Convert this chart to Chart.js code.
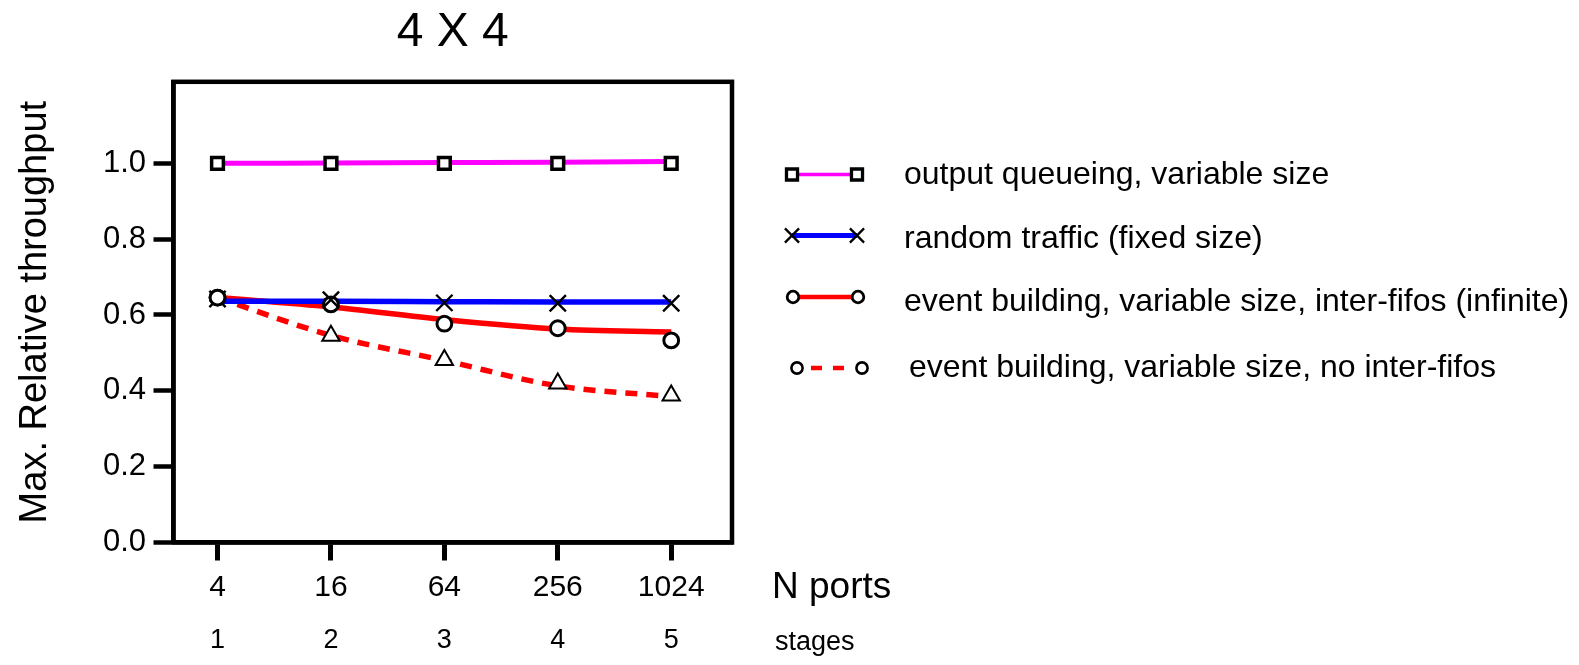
<!DOCTYPE html>
<html>
<head>
<meta charset="utf-8">
<script src="https://cdn.jsdelivr.net/npm/chart.js@4.4.1/dist/chart.umd.min.js"></script>
<style>
  html, body { margin: 0; padding: 0; background: #fff; }
  canvas { display: block; }
</style>
</head>
<body>
<canvas id="chart" width="1579" height="665" style="width:1579px;height:665px"></canvas>
<script>
// Network size per number of switching stages
const stages = [1, 2, 3, 4, 5];
const portLabels = ['4', '16', '64', '256', '1024'];
const stageLabels = ['1', '2', '3', '4', '5'];
const yTickValues = [0, 0.2, 0.4, 0.6, 0.8, 1.0];

// Fitted curves and simulated points, max. relative throughput
const outputQueueingFit = [1.000, 1.001, 1.002, 1.003, 1.005];
const outputQueueingPts = [1.000, 1.000, 1.000, 1.000, 1.000];
const randomTrafficFit  = [0.636, 0.636, 0.635, 0.634, 0.634];
const randomTrafficPts  = [0.642, 0.640, 0.632, 0.631, 0.631];
const interFifoFit      = [0.646, 0.621, 0.588, 0.563, 0.555];
const interFifoPts      = [0.646, 0.628, 0.577, 0.565, 0.533];
const noFifoFit         = [0.646, 0.546, 0.480, 0.413, 0.385];
const noFifoPts         = [0.646, 0.545, 0.481, 0.419, 0.388];

const seriesLabels = [
  'output queueing, variable size',
  'random traffic (fixed size)',
  'event building, variable size, inter-fifos (infinite)',
  'event building, variable size, no inter-fifos'
];

const FONT = "'Liberation Sans', Arial, Helvetica, sans-serif";
Chart.defaults.font.family = FONT;
Chart.defaults.color = '#000';

const xy = vals => vals.map((v, i) => ({ x: stages[i], y: v }));

function curve(label, vals, color, width, dash) {
  return {
    label, data: xy(vals), borderColor: color, borderWidth: width,
    borderDash: dash || [], pointRadius: 0, fill: false,
    cubicInterpolationMode: 'monotone', order: 10
  };
}
function marks(label, vals, style, radius, bw, order) {
  return {
    label, data: xy(vals), showLine: false,
    pointStyle: style, pointRadius: radius, pointBorderWidth: bw,
    pointBorderColor: '#000', pointBackgroundColor: '#fff',
    pointHoverRadius: radius, order
  };
}

const datasets = [
  curve(seriesLabels[0], outputQueueingFit, '#ff00ff', 5),
  curve(seriesLabels[1], randomTrafficFit, '#0000ff', 5.5),
  curve(seriesLabels[2], interFifoFit, '#ff0000', 5.5),
  curve(seriesLabels[3], noFifoFit, '#ff0000', 5.5, [12, 9]),
  marks(seriesLabels[0], outputQueueingPts, 'rect', 8.3, 3.5, 4),
  marks(seriesLabels[1], randomTrafficPts, 'crossRot', 11.5, 2.4, 3),
  marks(seriesLabels[2], interFifoPts, 'circle', 7.4, 3, 5),
  marks(seriesLabels[3], noFifoPts,
        ['circle', 'triangle', 'triangle', 'triangle', 'triangle'],
        [7.4, 10, 10, 10, 10], [3, 2, 2, 2, 2], 1)
];

// Legend rows: line sample with an end marker on each side, then the label
const legendRows = [
  { line: 0, y: 174.5, ty: 175, x1: 792, x2: 857, tx: 904, lw: 3.5, style: 'rect', r: 7.8, bw: 3.3 },
  { line: 1, y: 235.5, ty: 239, x1: 792, x2: 857, tx: 904, lw: 5, style: 'crossRot', r: 10, bw: 2.3 },
  { line: 2, y: 297, ty: 302, x1: 793, x2: 858, tx: 904, lw: 4.7, style: 'circle', r: 5.8, bw: 2.8 },
  { line: 3, y: 368, ty: 368, x1: 797, x2: 862, tx: 909, lw: 4.7, style: 'circle', r: 5.6, bw: 2.6, dash: [11, 11] }
];

const framePlugin = {
  id: 'frame',
  beforeDatasetsDraw(chart) {
    const { ctx, chartArea: a } = chart;
    ctx.save();
    ctx.strokeStyle = '#000';
    ctx.lineWidth = 4.5;
    ctx.lineJoin = 'miter';
    ctx.strokeRect(a.left, a.top, a.right - a.left, a.bottom - a.top);
    ctx.restore();
  },
  afterDraw(chart) {
    const { ctx } = chart;
    ctx.save();
    // axis captions beside the tick rows
    ctx.fillStyle = '#000';
    ctx.textBaseline = 'middle';
    ctx.textAlign = 'left';
    ctx.font = '37px ' + FONT;
    ctx.fillText('N ports', 772, 588);
    ctx.font = '27px ' + FONT;
    ctx.fillText('stages', 775, 643);

    // legend
    legendRows.forEach(row => {
      const ds = chart.data.datasets[row.line];
      ctx.save();
      ctx.strokeStyle = ds.borderColor;
      ctx.lineWidth = row.lw;
      ctx.setLineDash(row.dash || []);
      ctx.beginPath();
      if (row.dash) {
        ctx.moveTo(row.x1 + 14, row.y);
        ctx.lineTo(row.x2 - 10, row.y);
      } else {
        ctx.moveTo(row.x1, row.y);
        ctx.lineTo(row.x2, row.y);
      }
      ctx.stroke();
      ctx.restore();
      [row.x1, row.x2].forEach(px => {
        ctx.save();
        ctx.strokeStyle = '#000';
        ctx.fillStyle = '#fff';
        ctx.lineWidth = row.bw;
        Chart.helpers.drawPoint(ctx, { pointStyle: row.style, radius: row.r, rotation: 0, borderWidth: row.bw }, px, row.y);
        ctx.restore();
      });
      ctx.fillStyle = '#000';
      ctx.font = '32px ' + FONT;
      ctx.textBaseline = 'middle';
      ctx.textAlign = 'left';
      ctx.fillText(ds.label, row.tx, row.ty);
    });
    ctx.restore();
  }
};

new Chart(document.getElementById('chart'), {
  type: 'line',
  data: { datasets },
  plugins: [framePlugin],
  options: {
    responsive: false,
    animation: false,
    devicePixelRatio: 1,
    events: [],
    layout: { padding: { left: 0, top: 0, right: 847, bottom: 0 } },
    plugins: {
      legend: { display: false },
      tooltip: { enabled: false },
      title: {
        display: true, text: '4 X 4', fullSize: false, color: '#000',
        font: { size: 48, weight: 'normal', lineHeight: 1.2 },
        padding: { top: 4.2, bottom: 20 }
      }
    },
    scales: {
      x: {
        type: 'linear', position: 'bottom', weight: 0,
        min: 0.612, max: 5.536,
        afterBuildTicks: s => { s.ticks = stages.map(v => ({ value: v })); },
        afterFit: s => { s.height = 75; },
        ticks: {
          autoSkip: false, maxRotation: 0, padding: 9,
          font: { size: 30 },
          callback: (v) => portLabels[stages.indexOf(v)]
        },
        grid: { drawOnChartArea: false, drawTicks: true, tickLength: 18, tickWidth: 5, tickColor: '#000' },
        border: { display: true, width: 4.5, color: '#000' }
      },
      x2: {
        type: 'linear', position: 'bottom', weight: 1,
        min: 0.612, max: 5.536,
        afterBuildTicks: s => { s.ticks = stages.map(v => ({ value: v })); },
        afterFit: s => { s.height = 47.5; },
        ticks: {
          autoSkip: false, maxRotation: 0, padding: 6.5,
          font: { size: 27 },
          callback: (v) => stageLabels[stages.indexOf(v)]
        },
        grid: { display: false, drawTicks: false },
        border: { display: false }
      },
      y: {
        type: 'linear', position: 'left',
        min: 0, max: 1.215,
        afterBuildTicks: s => { s.ticks = yTickValues.map(v => ({ value: v })); },
        afterFit: s => { s.width = 173.5; },
        ticks: {
          padding: 7.5, font: { size: 31 },
          callback: v => v.toFixed(1)
        },
        grid: { drawOnChartArea: false, drawTicks: true, tickLength: 20, tickWidth: 4.5, tickColor: '#000' },
        border: { display: true, width: 4.5, color: '#000' },
        title: {
          display: true, text: 'Max. Relative throughput', color: '#000',
          font: { size: 38, lineHeight: 1.2 },
          padding: { top: 12.5, bottom: 0 }
        }
      }
    }
  }
});
</script>
</body>
</html>
